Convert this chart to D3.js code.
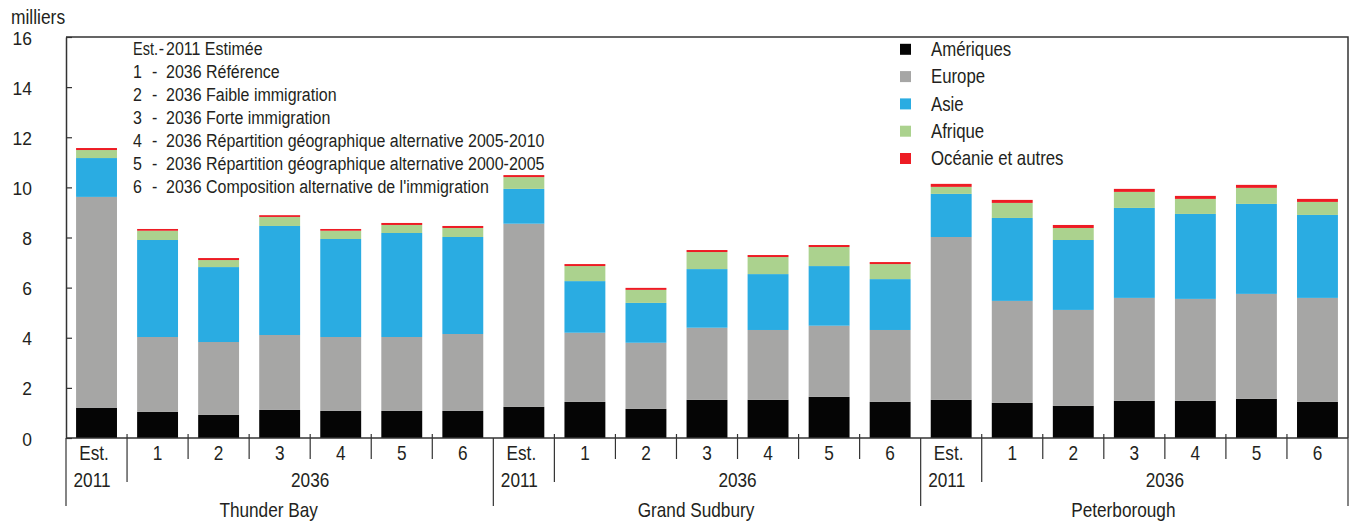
<!DOCTYPE html>
<html>
<head>
<meta charset="utf-8">
<script src="https://cdn.jsdelivr.net/npm/d3@7"></script>
<style>
  html, body { margin: 0; padding: 0; background: #fff; }
  svg { display: block; }
  text { font-family: "Liberation Sans", Arial, sans-serif; fill: #231f20; }
</style>
</head>
<body>
<svg id="chart" width="1353" height="525"></svg>
<script>
// Regions and scenarios shown along the x axis
const regions = ["Thunder Bay", "Grand Sudbury", "Peterborough"];
const scenarios = ["Est.", "1", "2", "3", "4", "5", "6"];

// Immigrant population by place of birth (thousands), 7 bars per region
const ameriques = [1.21, 1.04, 0.92, 1.12, 1.08, 1.08, 1.08,
                   1.24, 1.44, 1.16, 1.52, 1.52, 1.64, 1.44,
                   1.52, 1.40, 1.28, 1.48, 1.48, 1.56, 1.44];
const europe    = [8.41, 2.99, 2.91, 2.99, 2.95, 2.95, 3.07,
                   7.31, 2.76, 2.64, 2.88, 2.79, 2.84, 2.87,
                   6.50, 4.07, 3.83, 4.11, 4.07, 4.19, 4.15];
const asie      = [1.55, 3.87, 2.99, 4.35, 3.91, 4.15, 3.87,
                   1.39, 2.06, 1.59, 2.34, 2.23, 2.38, 2.03,
                   1.72, 3.31, 2.79, 3.59, 3.39, 3.59, 3.31];
const afrique   = [0.32, 0.37, 0.28, 0.36, 0.33, 0.32, 0.36,
                   0.47, 0.60, 0.52, 0.68, 0.68, 0.76, 0.60,
                   0.28, 0.60, 0.48, 0.64, 0.60, 0.64, 0.52];
const oceanie   = [0.08, 0.07, 0.08, 0.07, 0.07, 0.08, 0.08,
                   0.08, 0.08, 0.08, 0.08, 0.08, 0.08, 0.08,
                   0.12, 0.12, 0.12, 0.12, 0.12, 0.12, 0.12];

const seriesNames = ["Amériques", "Europe", "Asie", "Afrique", "Océanie et autres"];
const seriesColors = ["#050505", "#a6a6a5", "#2aace2", "#abd28e", "#ed1c24"];
const yTicks = [0, 2, 4, 6, 8, 10, 12, 14, 16];

const scenarioNotes = [
  ["Est.", "2011 Estimée"],
  ["1", "2036 Référence"],
  ["2", "2036 Faible immigration"],
  ["3", "2036 Forte immigration"],
  ["4", "2036 Répartition géographique alternative 2005-2010"],
  ["5", "2036 Répartition géographique alternative 2000-2005"],
  ["6", "2036 Composition alternative de l'immigration"]
];

// Build rows for the stack
const keys = ["am", "eu", "as", "af", "oc"];
const rows = ameriques.map((_, i) => ({
  idx: i,
  am: ameriques[i], eu: europe[i], as: asie[i], af: afrique[i], oc: oceanie[i]
}));

const svg = d3.select("#chart");
const plotL = 66, plotR = 1348, plotT = 37, plotB = 438;

// Condensed-looking text: regular face squeezed horizontally
function label(parent, px, py, str, size, sx, anchor) {
  return parent.append("text")
    .attr("transform", `translate(${px},${py}) scale(${sx},1)`)
    .attr("text-anchor", anchor || "start")
    .style("font-size", size + "px")
    .text(str);
}

const x = d3.scaleBand()
  .domain(rows.map(d => d.idx))
  .range([plotL, plotR])
  .paddingInner(0.33)
  .paddingOuter(0.165);

const y = d3.scaleLinear().domain([0, 16]).range([plotB, plotT]);

const color = d3.scaleOrdinal().domain(keys).range(seriesColors);

const stacked = d3.stack().keys(keys)(rows);

// Bars
svg.append("g").selectAll("g")
  .data(stacked)
  .join("g")
  .attr("fill", s => color(s.key))
  .selectAll("rect")
  .data(s => s)
  .join("rect")
  .attr("x", d => x(d.data.idx))
  .attr("width", x.bandwidth())
  .attr("y", d => y(d[1]))
  .attr("height", d => y(d[0]) - y(d[1]));

// Frame: top and right border
const axisColor = "#333";
svg.append("path")
  .attr("d", `M${plotL},${plotT}H${plotR}V${plotB}`)
  .attr("fill", "none").attr("stroke", axisColor).attr("stroke-width", 1.5);

// Y axis with inward ticks
const yAxis = svg.append("g")
  .attr("transform", `translate(${plotL},0)`)
  .call(d3.axisLeft(y).tickValues(yTicks).tickSize(-6).tickPadding(0).tickSizeOuter(0));
yAxis.select(".domain").attr("stroke", axisColor).attr("stroke-width", 1.5);
yAxis.selectAll(".tick line").attr("stroke", axisColor).attr("stroke-width", 1.2);
yAxis.selectAll(".tick text")
  .attr("x", 0).attr("dy", null)
  .attr("transform", "translate(-34,7) scale(0.92,1)")
  .attr("text-anchor", "end")
  .attr("fill", "#231f20")
  .style("font-size", "19px");

label(svg, 11, 24, "milliers", 20, 0.87);

// X axis baseline
svg.append("line")
  .attr("x1", plotL).attr("x2", plotR).attr("y1", plotB).attr("y2", plotB)
  .attr("stroke", axisColor).attr("stroke-width", 1.5);

// Category separators: short between scenarios, longer after Est., full between regions
const step = x.step();
const sepG = svg.append("g").attr("stroke", axisColor).attr("stroke-width", 1.2);
for (let i = 0; i <= rows.length; i++) {
  const xp = plotL + i * step;
  const pos = i % scenarios.length;
  let y1 = plotB - 4, y2 = 459;
  if (pos === 1) y2 = 482;
  if (pos === 0) { y1 = plotB; y2 = 506; }
  sepG.append("line").attr("x1", xp).attr("x2", xp)
    .attr("y1", y1).attr("y2", y2);
}

// Scenario labels, year labels and region names
const lab = svg.append("g");
rows.forEach(d => {
  const cx = x(d.idx) + x.bandwidth() / 2;
  const isEst = d.idx % scenarios.length === 0;
  label(lab, isEst ? cx - 2.5 : cx, 460, scenarios[d.idx % scenarios.length], 21, 0.82, "middle");
});
regions.forEach((r, gi) => {
  const i0 = gi * scenarios.length;
  const cEst = x(i0) + x.bandwidth() / 2;
  label(lab, cEst - 4.5, 487, "2011", 21, 0.82, "middle");
  const c1 = x(i0 + 1) + x.bandwidth() / 2, c6 = x(i0 + 6) + x.bandwidth() / 2;
  label(lab, (c1 + c6) / 2, 487, "2036", 21, 0.82, "middle");
  label(lab, (cEst + c6) / 2 - 11, 517, r, 21, 0.82, "middle");
});

// Scenario notes (top left)
const notes = svg.append("g");
scenarioNotes.forEach((n, i) => {
  const yy = 55 + i * 23;
  label(notes, 133, yy, n[0], 18.6, i === 0 ? 0.78 : 0.86);
  label(notes, i === 0 ? 161.5 : 154.7, yy, "-", 18.6, 0.86, "middle");
  label(notes, 166, yy, n[1], 18.6, 0.86);
});

// Series legend (top right), in stacking order
const leg = svg.append("g");
seriesNames.forEach((name, i) => {
  const yy = 49.3 + i * 27.3;
  leg.append("rect").attr("x", 900).attr("y", yy - 5.5).attr("width", 11).attr("height", 11)
    .attr("fill", seriesColors[i]);
  label(leg, 931, yy + 6.7, name, 20, 0.84);
});
</script>
</body>
</html>
